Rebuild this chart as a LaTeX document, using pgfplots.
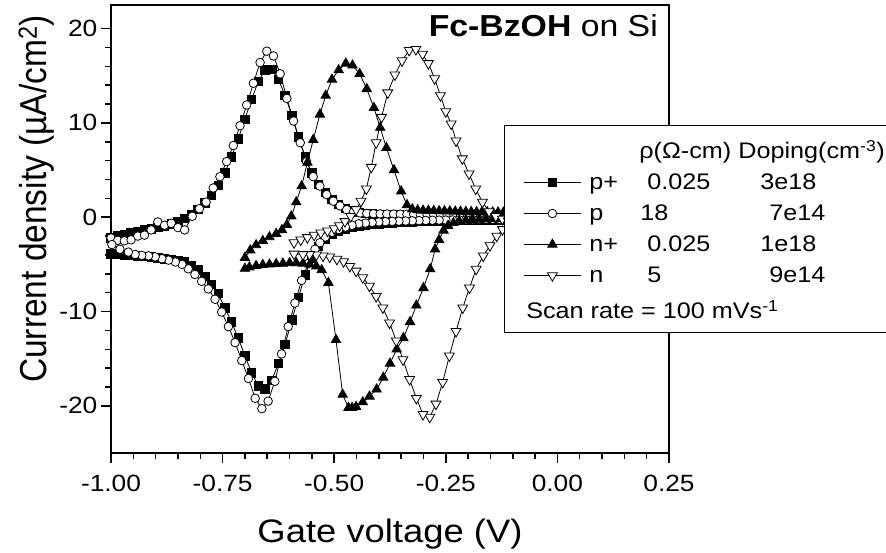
\documentclass[border=0pt]{standalone}
\usepackage{fontspec}
\setmainfont{Liberation Sans}[FakeStretch=1.12]
\newfontfamily\plainsans{Liberation Sans}
\usepackage{graphicx}
\usepackage{pgfplots}
\pgfplotsset{compat=1.18}
\pgfplotstableset{col sep=space}
\begin{document}
\begin{tikzpicture}
\begin{axis}[
  scale only axis, width=558pt, height=448pt,
  xmin=-1, xmax=0.25, ymin=-25, ymax=22.5,
  axis line style={line width=1.5pt},
  tick style={line width=1.5pt, black},
  tick align=outside, tick pos=left,
  major tick length=9.5pt, minor tick length=5.5pt,
  xtick={-1,-0.75,-0.5,-0.25,0,0.25},
  xticklabels={-1.00,-0.75,-0.50,-0.25,0.00,0.25},
  ytick={-20,-10,0,10,20},
  yticklabels={-20,-10,0,10,20},
  minor x tick num=4, minor y tick num=4,
  tick label style={font=\fontsize{23.5}{27}\selectfont},
  xticklabel style={inner sep=0pt, yshift=-12pt},
  yticklabel style={inner sep=0pt, xshift=-4pt},
  xlabel={Gate voltage (V)},
  ylabel={\scalebox{1}[1.12]{\plainsans Current density (µA/cm\textsuperscript{2})}},
  every axis x label/.style={at={(axis description cs:0.5,-0.1987)}, anchor=base, font=\fontsize{32.5}{38}\selectfont},
  every axis y label/.style={at={(axis description cs:-0.1147,0.567)}, anchor=base, rotate=90, font=\fontsize{33.5}{40}\selectfont},
  legend style={
    at={(axis description cs:0.7043,0.7321)}, anchor=north west,
    draw=black, line width=1pt, fill=white,
    inner xsep=0pt, inner ysep=0pt,
    row sep=10pt, column sep=8pt,
    font=\fontsize{22.5}{26}\selectfont,
    cells={anchor=base west},
    nodes={inner sep=0pt, text depth={}, text height={}},
  },
  legend image code/.code={
    \path (0pt,7.3pt);
    \draw[mark repeat=2, mark phase=2, #1] plot coordinates {(19pt,7.3pt) (47.5pt,7.3pt) (76pt,7.3pt)};
  },
]
\addlegendimage{empty legend}
\addlegendentry{\rule[-5pt]{0pt}{38.3pt}\hspace*{50pt}\makebox[99pt][l]{ρ(Ω-cm)}Doping(cm\textsuperscript{-3})\hspace*{4pt}}

% p+ (filled squares)
\addplot[black, line width=0.8pt, mark=square*, mark size=4.2pt, mark options={fill=black, line width=0.8pt}] table {
-1.000 -2.2
-0.985 -2.0
-0.970 -1.82
-0.955 -1.65
-0.940 -1.48
-0.925 -1.36
-0.910 -1.24
-0.895 -1.1
-0.880 -0.92
-0.865 -0.7
-0.850 -0.45
-0.835 -0.15
-0.820 0.3
-0.805 0.85
-0.790 1.5
-0.775 2.3
-0.760 3.4
-0.745 4.7
-0.730 6.4
-0.715 8.3
-0.700 10.4
-0.685 12.5
-0.670 14.4
-0.655 15.6
-0.640 15.7
-0.625 14.6
-0.610 12.9
-0.595 10.8
-0.580 8.5
-0.565 6.4
-0.550 4.7
-0.535 3.5
-0.520 2.6
-0.505 1.9
-0.490 1.35
-0.475 0.95
-0.460 0.7
-0.445 0.5
-0.430 0.4
-0.415 0.35
-0.400 0.3
-0.385 0.28
-0.370 0.25
-0.355 0.23
-0.340 0.2
-0.325 0.2
-0.310 0.18
-0.295 0.17
-0.280 0.15
-0.265 0.15
-0.250 0.14
-0.235 0.12
-0.220 0.1
-0.205 0.1
-0.190 0.08
-0.175 0.08
-0.160 0.06
-0.145 0.05
-0.130 0.05
-0.115 0.05
-0.100 0.05
-0.100 -0.25
-0.115 -0.26
-0.130 -0.27
-0.145 -0.28
-0.160 -0.29
-0.175 -0.30
-0.190 -0.31
-0.205 -0.33
-0.220 -0.34
-0.235 -0.36
-0.250 -0.38
-0.265 -0.40
-0.280 -0.42
-0.295 -0.44
-0.310 -0.47
-0.325 -0.50
-0.340 -0.53
-0.355 -0.57
-0.370 -0.61
-0.385 -0.66
-0.400 -0.72
-0.415 -0.79
-0.430 -0.87
-0.445 -0.97
-0.460 -1.10
-0.475 -1.27
-0.490 -1.50
-0.505 -1.85
-0.520 -2.35
-0.535 -3.10
-0.550 -4.30
-0.565 -6.10
-0.580 -8.50
-0.595 -10.9
-0.610 -13.5
-0.625 -15.5
-0.640 -17.3
-0.655 -18.2
-0.670 -17.9
-0.685 -16.5
-0.700 -14.7
-0.715 -12.8
-0.730 -11.1
-0.745 -9.6
-0.760 -8.1
-0.775 -7.1
-0.790 -6.25
-0.805 -5.6
-0.820 -5.1
-0.835 -4.75
-0.850 -4.6
-0.865 -4.5
-0.880 -4.4
-0.895 -4.3
-0.910 -4.2
-0.925 -4.15
-0.940 -4.1
-0.955 -4.05
-0.970 -4.0
-0.985 -3.95
-1.000 -3.9
};
\addlegendentry{\rule[-5pt]{0pt}{21pt}\makebox[58pt][l]{p+}\makebox[113pt][l]{0.025}3e18}

% p (open circles)
\addplot[black, line width=0.8pt, mark=*, mark size=4.3pt, mark options={fill=white, line width=0.8pt}] table {
-1.000 -2.2
-0.985 -2.45
-0.970 -2.5
-0.955 -2.4
-0.940 -2.0
-0.925 -1.9
-0.910 -1.35
-0.895 -0.5
-0.880 -0.85
-0.865 -0.65
-0.850 -1.1
-0.835 -1.35
-0.818 0.1
-0.802 0.9
-0.787 1.6
-0.771 3.1
-0.756 4.3
-0.741 5.9
-0.726 7.6
-0.711 9.7
-0.696 11.9
-0.681 14.2
-0.666 16.4
-0.651 17.6
-0.636 17.1
-0.621 15.2
-0.606 12.6
-0.591 10.2
-0.576 7.9
-0.562 5.9
-0.547 4.3
-0.532 3.3
-0.517 2.4
-0.502 1.7
-0.487 1.2
-0.472 0.8
-0.457 0.55
-0.442 0.45
-0.427 0.4
-0.412 0.37
-0.397 0.35
-0.382 0.34
-0.367 0.33
-0.352 0.32
-0.337 0.31
-0.322 0.3
-0.307 0.3
-0.292 0.29
-0.277 0.28
-0.262 0.28
-0.247 0.27
-0.232 0.27
-0.217 0.26
-0.202 0.26
-0.187 0.25
-0.172 0.25
-0.157 0.24
-0.142 0.24
-0.127 0.23
-0.112 0.23
-0.100 0.22
-0.100 -0.20
-0.115 -0.21
-0.130 -0.22
-0.145 -0.23
-0.160 -0.24
-0.175 -0.25
-0.190 -0.26
-0.205 -0.27
-0.220 -0.28
-0.235 -0.29
-0.250 -0.30
-0.265 -0.31
-0.280 -0.32
-0.295 -0.34
-0.310 -0.36
-0.325 -0.38
-0.340 -0.40
-0.355 -0.42
-0.370 -0.44
-0.385 -0.47
-0.400 -0.50
-0.415 -0.55
-0.430 -0.62
-0.445 -0.70
-0.460 -0.85
-0.475 -1.05
-0.490 -1.30
-0.505 -1.60
-0.520 -2.10
-0.532 -2.70
-0.543 -3.40
-0.558 -4.90
-0.573 -6.70
-0.588 -9.10
-0.603 -11.6
-0.618 -14.5
-0.633 -17.4
-0.648 -19.5
-0.662 -20.3
-0.677 -19.2
-0.692 -17.1
-0.707 -15.2
-0.722 -13.3
-0.737 -11.6
-0.752 -10.05
-0.767 -8.7
-0.782 -7.6
-0.797 -6.8
-0.812 -6.07
-0.827 -5.47
-0.841 -5.0
-0.856 -4.75
-0.871 -4.55
-0.886 -4.4
-0.901 -4.2
-0.916 -4.1
-0.931 -4.05
-0.946 -3.95
-0.961 -3.7
-0.980 -3.4
-0.998 -2.9
};
\addlegendentry{\rule[-5pt]{0pt}{21pt}\makebox[51pt][l]{p}\makebox[129pt][l]{18}7e14}

% n+ (filled triangles)
\addplot[black, line width=0.8pt, mark=triangle*, mark size=5.4pt, mark options={fill=black, line width=0.8pt}] table {
-0.700 -4.3
-0.688 -3.5
-0.675 -2.95
-0.660 -2.5
-0.645 -2.1
-0.630 -1.75
-0.617 -1.35
-0.606 -0.8
-0.596 0.1
-0.585 1.6
-0.573 3.3
-0.560 5.8
-0.547 8.2
-0.532 10.9
-0.519 12.9
-0.505 14.6
-0.490 15.6
-0.474 16.3
-0.459 16.1
-0.443 15.2
-0.427 13.6
-0.411 11.6
-0.397 9.5
-0.383 7.35
-0.366 5.0
-0.350 2.75
-0.337 1.3
-0.325 0.85
-0.313 0.75
-0.301 0.72
-0.289 0.7
-0.277 0.68
-0.265 0.66
-0.253 0.65
-0.241 0.64
-0.229 0.62
-0.217 0.6
-0.205 0.58
-0.193 0.57
-0.181 0.56
-0.169 0.55
-0.157 0.54
-0.145 0.53
-0.133 0.52
-0.121 0.51
-0.110 0.5
-0.100 0.5
-0.100 -0.15
-0.115 -0.17
-0.130 -0.18
-0.145 -0.2
-0.160 -0.22
-0.175 -0.25
-0.190 -0.28
-0.205 -0.33
-0.220 -0.42
-0.233 -0.6
-0.245 -0.9
-0.255 -1.4
-0.265 -2.4
-0.274 -3.4
-0.285 -5.5
-0.300 -7.5
-0.316 -9.35
-0.330 -11.1
-0.345 -12.8
-0.360 -14.0
-0.375 -15.5
-0.390 -17.0
-0.405 -18.25
-0.421 -19.0
-0.436 -19.6
-0.451 -20.1
-0.460 -20.2
-0.468 -20.2
-0.481 -18.8
-0.496 -13.0
-0.513 -6.95
-0.528 -5.6
-0.540 -5.2
-0.555 -5.0
-0.570 -4.9
-0.585 -4.85
-0.600 -4.85
-0.615 -4.9
-0.630 -4.95
-0.645 -5.0
-0.660 -5.05
-0.675 -5.15
-0.690 -5.3
-0.700 -5.45
};
\addlegendentry{\rule[-5pt]{0pt}{21pt}\makebox[58pt][l]{n+}\makebox[113pt][l]{0.025}1e18}

% n (open down triangles)
\addplot[black, line width=0.8pt, mark=triangle*, mark size=5.7pt, mark options={rotate=180, fill=white, line width=0.8pt}] table {
-0.590 -2.7
-0.575 -2.4
-0.560 -2.15
-0.545 -1.9
-0.530 -1.65
-0.515 -1.45
-0.500 -1.2
-0.488 -0.9
-0.476 -0.45
-0.463 0.1
-0.451 0.8
-0.440 1.7
-0.428 3.0
-0.417 5.3
-0.406 7.9
-0.394 10.6
-0.380 13.2
-0.364 15.1
-0.348 16.6
-0.332 17.7
-0.317 17.8
-0.302 17.3
-0.289 16.3
-0.275 14.7
-0.262 12.9
-0.250 11.2
-0.238 9.9
-0.227 8.1
-0.213 6.2
-0.198 4.6
-0.183 3.0
-0.168 1.6
-0.153 0.6
-0.138 0.1
-0.123 -0.2
-0.110 -0.4
-0.110 -0.8
-0.123 -1.3
-0.136 -2.0
-0.151 -3.0
-0.166 -4.1
-0.182 -5.5
-0.197 -7.5
-0.212 -9.6
-0.227 -12.1
-0.242 -14.7
-0.257 -17.5
-0.272 -19.8
-0.286 -21.2
-0.301 -20.9
-0.316 -19.2
-0.331 -17.2
-0.346 -15.1
-0.361 -13.1
-0.376 -11.2
-0.391 -9.6
-0.406 -8.4
-0.421 -7.3
-0.436 -6.4
-0.451 -5.7
-0.465 -5.2
-0.479 -4.7
-0.494 -4.45
-0.510 -4.2
-0.525 -4.1
-0.540 -4.0
-0.555 -3.95
-0.570 -3.95
-0.590 -3.9
};
\addlegendentry{\rule[-5pt]{0pt}{21pt}\makebox[58pt][l]{n}\makebox[122pt][l]{5}9e14}

\addlegendimage{empty legend}
\addlegendentry{\rule[-13.7pt]{0pt}{34.7pt}\hspace*{-63pt}Scan rate = 100 mVs\textsuperscript{-1}}

\node[anchor=base east, inner sep=0pt, xshift=-11pt, yshift=-31.7pt] at (rel axis cs:1,1) {\resizebox{229pt}{22pt}{\fontsize{30}{36}\selectfont\textbf{Fc-BzOH} on Si}};
\end{axis}
\pgfresetboundingbox
\path[use as bounding box] ([shift={(-111pt,-99pt)}]current axis.south west) rectangle ([shift={(217pt,5pt)}]current axis.north east);
\end{tikzpicture}
\end{document}
